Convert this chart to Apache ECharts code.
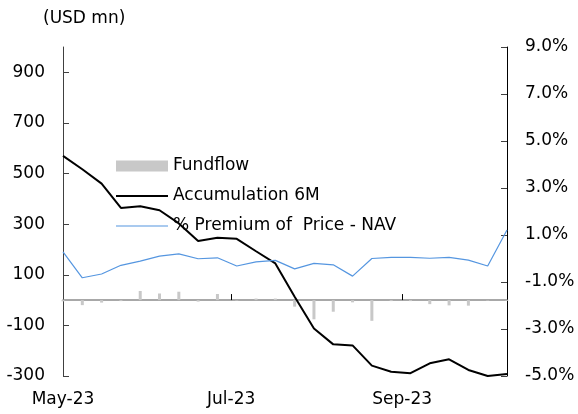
<!DOCTYPE html>
<html>
<head>
<meta charset="utf-8">
<script src="https://cdn.jsdelivr.net/npm/echarts@6.0.0/dist/echarts.min.js"></script>
<style>
  html, body { margin: 0; padding: 0; background: #fff; }
  #chart { width: 578px; height: 414px; }
</style>
</head>
<body>
<div id="chart"></div>
<script>
// weekly observations
const dates = [
  '2023-05-01', '2023-05-08', '2023-05-15', '2023-05-22', '2023-05-29', '2023-06-05',
  '2023-06-12', '2023-06-19', '2023-06-26', '2023-07-03', '2023-07-10', '2023-07-17',
  '2023-07-24', '2023-07-31', '2023-08-07', '2023-08-14', '2023-08-21', '2023-08-28',
  '2023-09-04', '2023-09-11', '2023-09-18', '2023-09-25', '2023-10-02', '2023-10-09'
];
// USD mn
const fundflow = [-5, -20, -10, -4, 36, 26, 33, -6, 24, -2, 6, 6, -26, -76, -46, -9, -82, -4, -4, -16, -21, -22, -2, -3];
const accum6m = [570, 517, 460, 364, 371, 355, 303, 233, 246, 242, 193, 145, 13, -112, -175, -179, -259, -283, -289, -250, -234, -276, -300, -292];
// %
const premium = [0.28, -0.82, -0.66, -0.29, -0.11, 0.10, 0.20, -0.01, 0.03, -0.32, -0.14, -0.08, -0.44, -0.21, -0.27, -0.75, 0.00, 0.05, 0.05, 0.01, 0.05, -0.07, -0.32, 1.21];

const tickDates = ['2023-07-01', '2023-09-01'];
const labelDates = ['2023-05-01', '2023-07-01', '2023-09-01'];
const monthNames = ['Jan', 'Feb', 'Mar', 'Apr', 'May', 'Jun', 'Jul', 'Aug', 'Sep', 'Oct', 'Nov', 'Dec'];

const seriesNames = ['Fundflow', 'Accumulation 6M', '% Premium of  Price - NAV'];

// day stamps (UTC) so a plain value axis can carry the dates
const ts = (d) => {
  const p = d.split('-').map(Number);
  return Date.UTC(p[0], p[1] - 1, p[2]);
};
const pair = (arr) => dates.map((d, i) => [ts(d), arr[i]]);
const monthLabel = (v) => {
  const d = new Date(v);
  return monthNames[d.getUTCMonth()] + '-' + String(d.getUTCFullYear()).slice(2);
};

const FONT = 'DejaVu Sans';
const FS = 17;
const chart = echarts.init(document.getElementById('chart'));

chart.setOption({
  animation: false,
  textStyle: { fontFamily: FONT },
  title: {
    text: '(USD mn)',
    left: 38,
    top: 5,
    textStyle: { fontFamily: FONT, fontSize: FS, fontWeight: 'normal', color: '#000' }
  },
  legend: {
    orient: 'vertical',
    left: 111,
    top: 151,
    itemWidth: 52,
    itemHeight: 11,
    itemGap: 10,
    symbolKeepAspect: true,
    textStyle: { fontFamily: FONT, fontSize: FS, color: '#000', lineHeight: 20 },
    data: [
      { name: seriesNames[0], icon: 'rect' },
      // plain line icons, no marker
      { name: seriesNames[1], icon: 'path://M0,0H52V2H0Z' },
      { name: seriesNames[2], icon: 'path://M0,0H52V1H0Z' }
    ]
  },
  grid: { left: 63, right: 71, top: 47, bottom: 38 },
  xAxis: [
    {
      // zero line with month ticks
      type: 'value',
      min: ts(dates[0]),
      max: ts(dates[dates.length - 1]),
      axisLine: { onZero: true, onZeroAxisIndex: 0, lineStyle: { color: '#8c8c8c', width: 1.5 } },
      axisTick: { show: true, inside: true, length: 6, customValues: tickDates.map(ts), lineStyle: { color: '#000' } },
      axisLabel: { show: false },
      splitLine: { show: false }
    },
    {
      // bottom labels
      type: 'value',
      position: 'bottom',
      min: ts(dates[0]),
      max: ts(dates[dates.length - 1]),
      axisLine: { show: false, onZero: false },
      axisTick: { show: false },
      axisLabel: {
        margin: 15,
        fontFamily: FONT,
        fontSize: FS,
        color: '#000',
        customValues: labelDates.map(ts),
        formatter: monthLabel
      },
      splitLine: { show: false }
    }
  ],
  yAxis: [
    {
      type: 'value',
      min: -300,
      max: 1000,
      interval: 200,
      axisLine: { show: true, lineStyle: { color: '#404040' } },
      axisTick: { show: true, inside: true, length: 6, lineStyle: { color: '#404040' } },
      axisLabel: { margin: 18, fontFamily: FONT, fontSize: FS, color: '#000', showMaxLabel: false },
      splitLine: { show: false }
    },
    {
      type: 'value',
      position: 'right',
      min: -5,
      max: 9,
      interval: 2,
      axisLine: { show: true, lineStyle: { color: '#000' } },
      axisTick: { show: true, inside: true, length: 6, lineStyle: { color: '#404040' } },
      axisLabel: {
        margin: 18, fontFamily: FONT, fontSize: FS, color: '#000',
        formatter: (v) => v.toFixed(1) + '%'
      },
      splitLine: { show: false }
    }
  ],
  series: [
    {
      name: seriesNames[0],
      type: 'bar',
      xAxisIndex: 0,
      yAxisIndex: 0,
      barWidth: 3,
      itemStyle: { color: '#c8c8c8' },
      data: pair(fundflow)
    },
    {
      name: seriesNames[1],
      type: 'line',
      xAxisIndex: 0,
      yAxisIndex: 0,
      symbol: 'none',
      lineStyle: { color: '#000', width: 2 },
      itemStyle: { color: '#000' },
      data: pair(accum6m)
    },
    {
      name: seriesNames[2],
      type: 'line',
      xAxisIndex: 0,
      yAxisIndex: 1,
      symbol: 'none',
      lineStyle: { color: '#5596e0', width: 1.2 },
      itemStyle: { color: '#5596e0' },
      data: pair(premium)
    }
  ]
});
</script>
</body>
</html>
